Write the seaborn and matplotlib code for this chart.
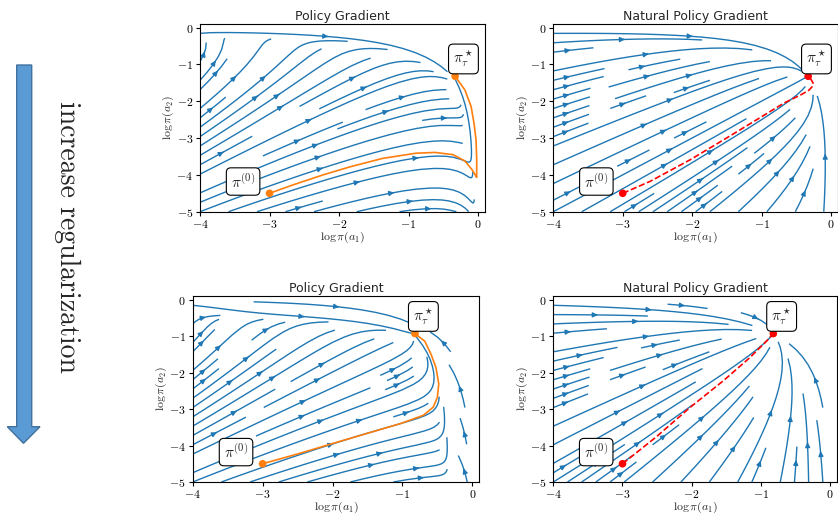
import numpy as np
import seaborn as sns
import matplotlib
matplotlib.use("Agg")
import matplotlib.pyplot as plt
from matplotlib.patches import Polygon

# ------------------------
# Data
# ------------------------
# log pi*_tau for (a1, a2) in each row: top = weak, bottom = strong regularization
PI_STAR_TOP = [-0.33, -1.32]
PI_STAR_BOT = [-0.82, -0.93]
PI_INIT = [-3.0, -4.5]

# policy gradient trajectories (log pi(a1), log pi(a2))
PG_TOP_X = [-3.0, -2.66, -2.23, -1.84, -1.37, -0.89, -0.62, -0.36, -0.19, -0.09,
            -0.04, -0.02, -0.019, -0.029, -0.058, -0.10, -0.19, -0.33]
PG_TOP_Y = [-4.5, -4.27, -4.0, -3.78, -3.55, -3.41, -3.39, -3.45, -3.62, -3.85,
            -4.0, -4.07, -3.6, -3.05, -2.6, -2.14, -1.69, -1.32]
PG_BOT_X = [-3.0, -2.46, -1.99, -1.51, -1.03, -0.70, -0.56, -0.50, -0.48, -0.52,
            -0.59, -0.68, -0.82]
PG_BOT_Y = [-4.5, -4.21, -3.94, -3.67, -3.40, -3.17, -2.95, -2.68, -2.31, -1.86,
            -1.50, -1.14, -0.93]

# natural policy gradient trajectories
NPG_TOP_X = [-3.0, -2.61, -2.03, -1.55, -1.07, -0.68, -0.44, -0.32, -0.27, -0.26, -0.29, -0.33]
NPG_TOP_Y = [-4.5, -4.18, -3.59, -3.05, -2.5, -2.05, -1.83, -1.7, -1.6, -1.5, -1.4, -1.32]
NPG_BOT_X = [-3.0, -2.51, -2.02, -1.54, -1.16, -0.92, -0.82]
NPG_BOT_Y = [-4.5, -3.76, -2.95, -2.22, -1.59, -1.14, -0.93]

XLIM = (-4, 0.1)
YLIM = (-5, 0.1)

# ------------------------
# Style
# ------------------------
sns.set_theme(style="ticks")
plt.rcParams.update({
    "font.family": ["cmr10", "DejaVu Sans"],
    "mathtext.fontset": "cm",
    "axes.formatter.use_mathtext": True,
    "axes.edgecolor": "black",
    "axes.linewidth": 0.8,
    "xtick.color": "black",
    "ytick.color": "black",
    "xtick.labelsize": 8.5,
    "ytick.labelsize": 8.5,
    "axes.labelsize": 8.5,
    "xtick.major.size": 3,
    "ytick.major.size": 3,
    "xtick.major.width": 0.8,
    "ytick.major.width": 0.8,
    "xtick.major.pad": 1.5,
    "ytick.major.pad": 2,
})


def flow(log_star, natural):
    """Entropy-regularised softmax flow in (log pi(a1), log pi(a2)) coordinates."""
    xs = np.linspace(XLIM[0], XLIM[1], 300)
    ys = np.linspace(YLIM[0], YLIM[1], 300)
    X, Y = np.meshgrid(xs, ys)
    P1, P2 = np.exp(X), np.exp(Y)
    P3 = 1.0 - P1 - P2
    valid = P3 > 1e-9
    L3 = np.log(np.where(valid, P3, 1.0))
    s1, s2 = log_star
    s3 = np.log(1.0 - np.exp(s1) - np.exp(s2))
    kl = P1 * (X - s1) + P2 * (Y - s2) + np.where(valid, P3 * (L3 - s3), 0.0)
    A1 = s1 - X + kl
    A2 = s2 - Y + kl
    A3 = s3 - L3 + kl
    if natural:
        U, V = A1, A2
    else:
        g1, g2, g3 = P1 * A1, P2 * A2, P3 * A3
        mean = P1 * g1 + P2 * g2 + P3 * g3
        U, V = g1 - mean, g2 - mean
    U = np.ma.array(U, mask=~valid)
    V = np.ma.array(V, mask=~valid)
    return xs, ys, U, V


def panel(fig, rect, log_star, natural, traj_x, traj_y):
    ax = fig.add_axes(rect)
    xs, ys, U, V = flow(log_star, natural)
    ax.streamplot(xs, ys, U, V, density=0.7, linewidth=1.0, arrowsize=0.7,
                  color="#1f77b4")
    col = "red" if natural else "#ff7f0e"
    ls = "--" if natural else "-"
    sns.lineplot(x=traj_x, y=traj_y, sort=False, estimator=None, ax=ax, color=col,
                 linestyle=ls, linewidth=1.2, zorder=4)
    sns.scatterplot(x=[PI_INIT[0], log_star[0]], y=[PI_INIT[1], log_star[1]],
                    ax=ax, color=col, s=30, edgecolor="none", zorder=5)
    bbox = dict(boxstyle="round,pad=0.3", fc="white", ec="black", lw=0.8)
    ax.text(PI_INIT[0] - 0.38, PI_INIT[1] + 0.32, r"$\pi^{(0)}$", fontsize=11,
            ha="center", va="center", bbox=bbox, zorder=6)
    ax.text(log_star[0] + 0.12, log_star[1] + 0.47, r"$\pi^\star_\tau$", fontsize=11,
            ha="center", va="center", bbox=bbox, zorder=6)
    ax.set_xlim(XLIM)
    ax.set_ylim(YLIM)
    ax.set_xticks([-4, -3, -2, -1, 0])
    ax.set_yticks([-5, -4, -3, -2, -1, 0])
    ax.set_xlabel(r"$\log\pi(a_1)$")
    ax.set_ylabel(r"$\log\pi(a_2)$", labelpad=0)
    ax.xaxis.set_label_coords(0.5, -0.097)
    title = "Natural Policy Gradient" if natural else "Policy Gradient"
    ax.set_title(title, fontsize=9, family="DejaVu Sans", pad=3)
    return ax


W, H = 838, 516
fig = plt.figure(figsize=(W / 100, H / 100), dpi=100)


def rect(left, right, top, bottom):
    return [left / W, 1 - bottom / H, (right - left) / W, (bottom - top) / H]


panel(fig, rect(200, 485, 24, 211.7), PI_STAR_TOP, False, PG_TOP_X, PG_TOP_Y)
panel(fig, rect(553.3, 838, 24, 211.7), PI_STAR_TOP, True, NPG_TOP_X, NPG_TOP_Y)
panel(fig, rect(192.7, 479.3, 296, 482), PI_STAR_BOT, False, PG_BOT_X, PG_BOT_Y)
panel(fig, rect(553.3, 837, 296, 482), PI_STAR_BOT, True, NPG_BOT_X, NPG_BOT_Y)

# big arrow on the left
arrow_px = [(16.7, 65), (31.7, 65), (31.7, 426.7), (40, 426.7), (23.5, 443.3),
            (7.3, 426.7), (16.7, 426.7)]
arrow = Polygon([(x / W, 1 - y / H) for x, y in arrow_px], closed=True,
                transform=fig.transFigure, fc="#5b9bd5", ec="#41719c", lw=1)
fig.patches.append(arrow)
fig.text(67.5 / W, 1 - 237.5 / H, "increase regularization", rotation=-90,
         fontsize=20, family="cmr10", ha="center", va="center")

fig.savefig("out.png", dpi=100)
